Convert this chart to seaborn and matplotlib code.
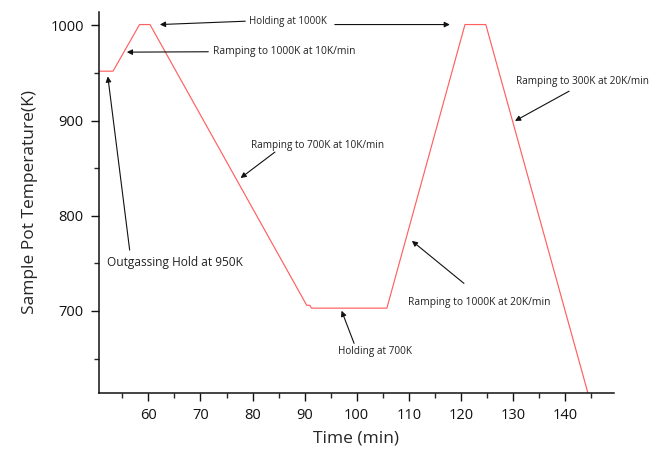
import numpy as np
import pandas as pd
import seaborn as sns
import matplotlib.pyplot as plt

# Data
time_min = [50.5, 53.2, 58.3, 60.3, 90.4, 91.0, 91.3, 105.8, 120.8, 124.8, 144.4]
temp_k = [952, 952, 1001, 1001, 706, 706, 703, 703, 1001, 1001, 614]

x_ticks = [60, 70, 80, 90, 100, 110, 120, 130, 140]
y_ticks = [700, 800, 900, 1000]

# labels: text, text position, alignment, size
labels = [
    ("Holding at 1000K", (86.8, 1004.0), "center", 7.0),
    ("Ramping to 1000K at 10K/min", (72.4, 972.7), "left", 7.4),
    ("Outgassing Hold at 950K", (65.1, 751.0), "center", 8.6),
    ("Ramping to 700K at 10K/min", (79.7, 874.0), "left", 7.2),
    ("Holding at 700K", (103.5, 657.0), "center", 7.2),
    ("Ramping to 1000K at 20K/min", (109.9, 708.7), "left", 7.4),
    ("Ramping to 300K at 20K/min", (130.6, 941.6), "left", 7.2),
]

# arrows: head, tail
arrows = [
    ((62.2, 1001.0), (78.6, 1004.5)),
    ((117.9, 1001.0), (95.8, 1001.0)),
    ((55.85, 972.0), (71.5, 972.4)),
    ((52.2, 946.5), (56.4, 764.0)),
    ((77.7, 839.7), (84.3, 867.0)),
    ((97.1, 700.3), (99.5, 666.0)),
    ((110.6, 773.7), (120.6, 729.0)),
    ((130.4, 899.7), (140.8, 931.0)),
]

df = pd.DataFrame({"Time (min)": time_min, "Temp": temp_k})

sns.set_style("ticks")
plt.rcParams["font.family"] = ["Open Sans", "DejaVu Sans"]

fig = plt.figure(figsize=(6.51, 4.51), dpi=100)
ax = fig.add_axes([0.152, 0.129, 0.791, 0.844])

sns.lineplot(data=df, x="Time (min)", y="Temp", ax=ax, color="#ff6060",
             linewidth=0.85, sort=False, estimator=None)

ax.set_xlim(50.5, 149.4)
ax.set_ylim(614, 1014)
ax.set_xticks(x_ticks)
ax.set_yticks(y_ticks)
ax.set_xticks([t - 5 for t in x_ticks] + [x_ticks[-1] + 5], minor=True)
ax.set_yticks([t - 50 for t in y_ticks], minor=True)
ax.tick_params(which="major", direction="out", length=6, width=1.0,
               labelsize=10.5, colors="#111111", pad=5)
ax.tick_params(which="minor", direction="out", length=3.5, width=1.0)
sns.despine(ax=ax)
for s in ["left", "bottom"]:
    ax.spines[s].set_linewidth(1.1)
    ax.spines[s].set_color("#111111")

ax.set_xlabel("Time (min)", fontsize=12.5, labelpad=5)
ax.set_ylabel("Sample Pot Temperature(K)", fontsize=12.5, labelpad=9)

for text, pos, ha, size in labels:
    ax.text(pos[0], pos[1], text, ha=ha, va="center", fontsize=size,
            color="#222222", clip_on=False)

for head, tail in arrows:
    ax.annotate("", xy=head, xytext=tail,
                arrowprops=dict(arrowstyle="-|>", color="#111111", lw=0.8,
                                mutation_scale=8, shrinkA=0, shrinkB=0),
                annotation_clip=False)

fig.savefig("out.png", dpi=100)
